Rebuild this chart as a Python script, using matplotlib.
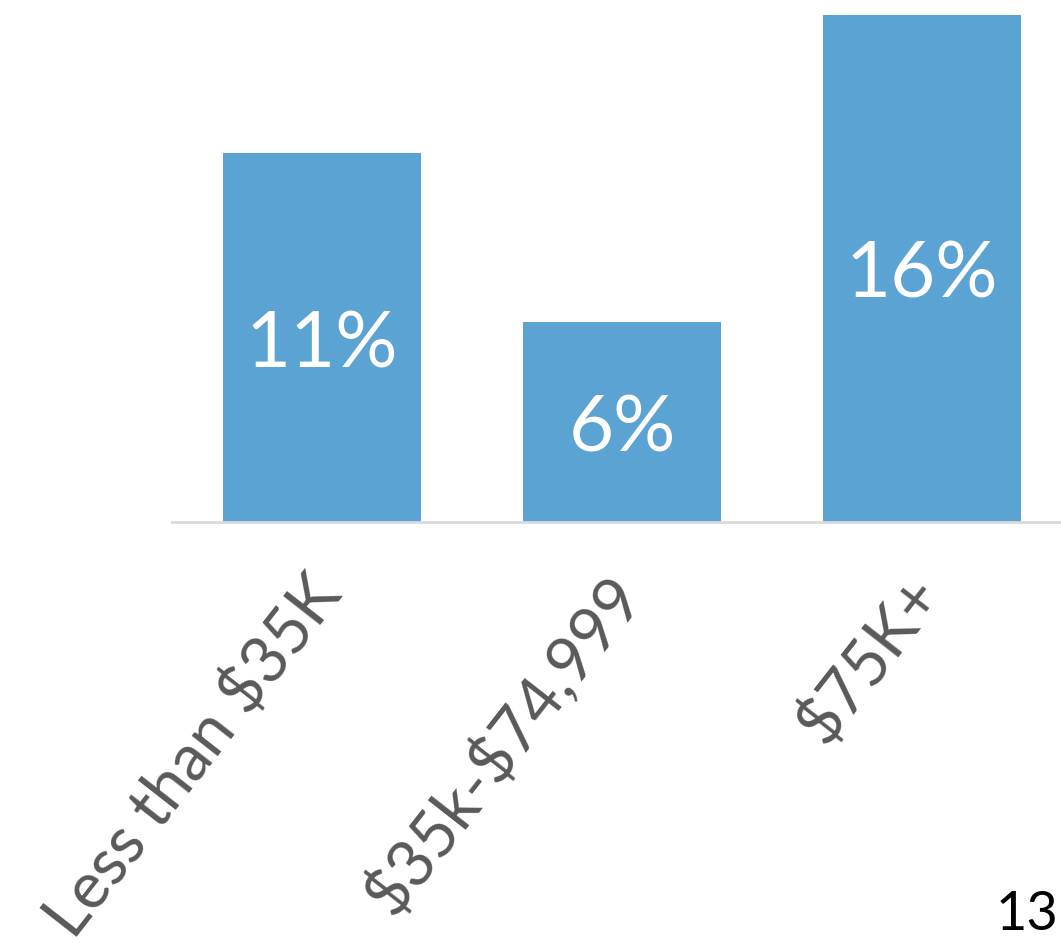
import matplotlib
matplotlib.use("Agg")
import matplotlib.pyplot as plt
import matplotlib.transforms as mtransforms

categories = ["Less than \\$35K", "\\$35k-\\$74,999", "\\$75K+"]
values = [11.35, 6.15, 15.6]
labels = ["11%", "6%", "16%"]

plt.rcParams['font.family'] = ['Lato', 'DejaVu Sans']

W, H = 1061, 948
fig = plt.figure(figsize=(W/100, H/100), dpi=100)
ax = fig.add_axes([172/W, (H-522)/H, 900/W, 507/H])

x = list(range(len(categories)))
bars = ax.bar(x, values, width=0.663, color='#5BA3D3', zorder=2)
ax.set_xlim(-0.5, 2.5)
ax.set_ylim(0, max(values))

for spine in ['top', 'right', 'left']:
    ax.spines[spine].set_visible(False)
ax.spines['bottom'].set_color('#D9D9D9')
ax.spines['bottom'].set_linewidth(2)
ax.set_yticks([])
ax.tick_params(axis='x', length=0, pad=0)
ax.set_xticks(x)
ax.set_xticklabels(categories, rotation=52, ha='right', va='top',
                   rotation_mode='anchor', fontsize=46.5, color='#595959')
off = mtransforms.ScaledTranslation(-18/100, -42/100, fig.dpi_scale_trans)
for lab in ax.get_xticklabels():
    lab.set_transform(lab.get_transform() + off)

doff = mtransforms.ScaledTranslation(0, -8/100, fig.dpi_scale_trans)
for b, lab in zip(bars, labels):
    ax.text(b.get_x() + b.get_width()/2, b.get_height()/2, lab,
            ha='center', va='center', color='white', fontsize=56, zorder=3,
            transform=ax.transData + doff)

fig.text(1058/W, (H-930)/H, "13", ha='right', va='baseline', fontsize=39, color='black')

fig.savefig("out.png", dpi=100)
